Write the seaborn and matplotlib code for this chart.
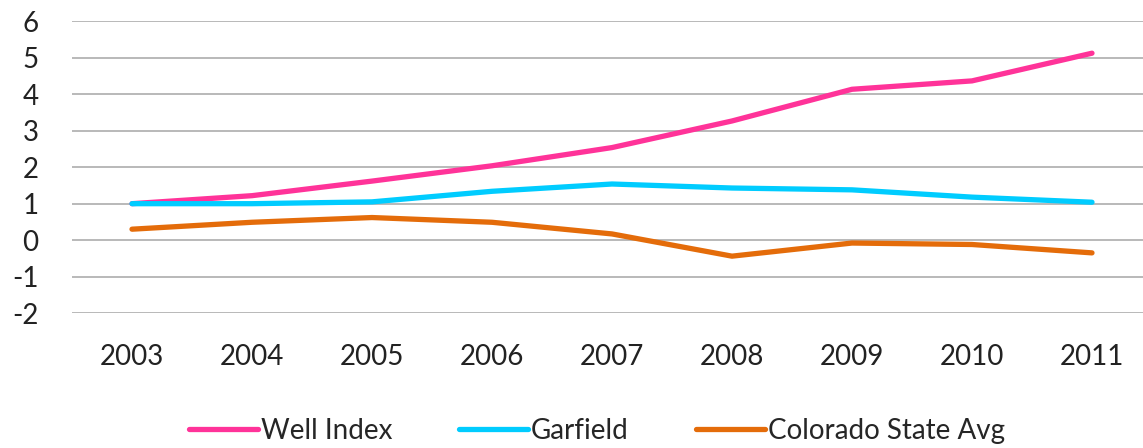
import numpy as np
import pandas as pd
import matplotlib
matplotlib.use("Agg")
import matplotlib.pyplot as plt
import seaborn as sns

# values
years = ["2003", "2004", "2005", "2006", "2007", "2008", "2009", "2010", "2011"]
well_index = [1.0, 1.22, 1.62, 2.04, 2.54, 3.27, 4.14, 4.37, 5.13]
garfield = [1.0, 1.0, 1.05, 1.34, 1.54, 1.43, 1.38, 1.18, 1.04]
colorado_avg = [0.30, 0.49, 0.62, 0.49, 0.17, -0.44, -0.08, -0.12, -0.35]

series_names = ["Well Index", "Garfield", "Colorado State Avg"]
series_colors = ["#FF3399", "#00CCFF", "#E46C0A"]

df = pd.DataFrame({
    "year": years * 3,
    "value": well_index + garfield + colorado_avg,
    "series": [s for s in series_names for _ in years],
})
df["pos"] = df["year"].map({y: i for i, y in enumerate(years)})

sns.set_style("white")
plt.rcParams["font.family"] = ["Lato", "DejaVu Sans"]
plt.rcParams["axes.unicode_minus"] = False

W, H = 1143, 448
fig = plt.figure(figsize=(W / 100, H / 100), dpi=100)
# plot area: category slots run from x=72 to x=1152 (cropped at the right edge)
ax = fig.add_axes([72 / W, (H - 313) / H, 1080 / W, 291.5 / H])

sns.lineplot(
    data=df, x="pos", y="value", hue="series",
    hue_order=series_names, palette=series_colors,
    linewidth=3.8, ax=ax, legend=False, solid_capstyle="round",
)

ax.set_xlim(-0.5, len(years) - 0.5)
ax.set_ylim(-2, 6)
ax.set_yticks(range(-2, 7))
ax.set_xticks(range(len(years)))
ax.set_xticklabels(years)
ax.grid(axis="y", color="#A6A6A6", linewidth=1.1)
ax.set_axisbelow(True)
for spine in ax.spines.values():
    spine.set_visible(False)
ax.tick_params(axis="y", length=0, pad=24, labelsize=20, labelcolor="#222222")
ax.tick_params(axis="x", length=0, pad=22, labelsize=20, labelcolor="#222222")
ax.set_xlabel("")
ax.set_ylabel("")

handles = [plt.Line2D([], [], color=c, linewidth=3.8, solid_capstyle="round")
           for c in series_colors]
fig.legend(
    handles, series_names, loc="center", bbox_to_anchor=(0.522, 1 - 431 / H),
    ncol=3, frameon=False, fontsize=20, handlelength=2.5, handletextpad=0.1,
    columnspacing=2.4,
)

fig.savefig("out.png", dpi=100)
